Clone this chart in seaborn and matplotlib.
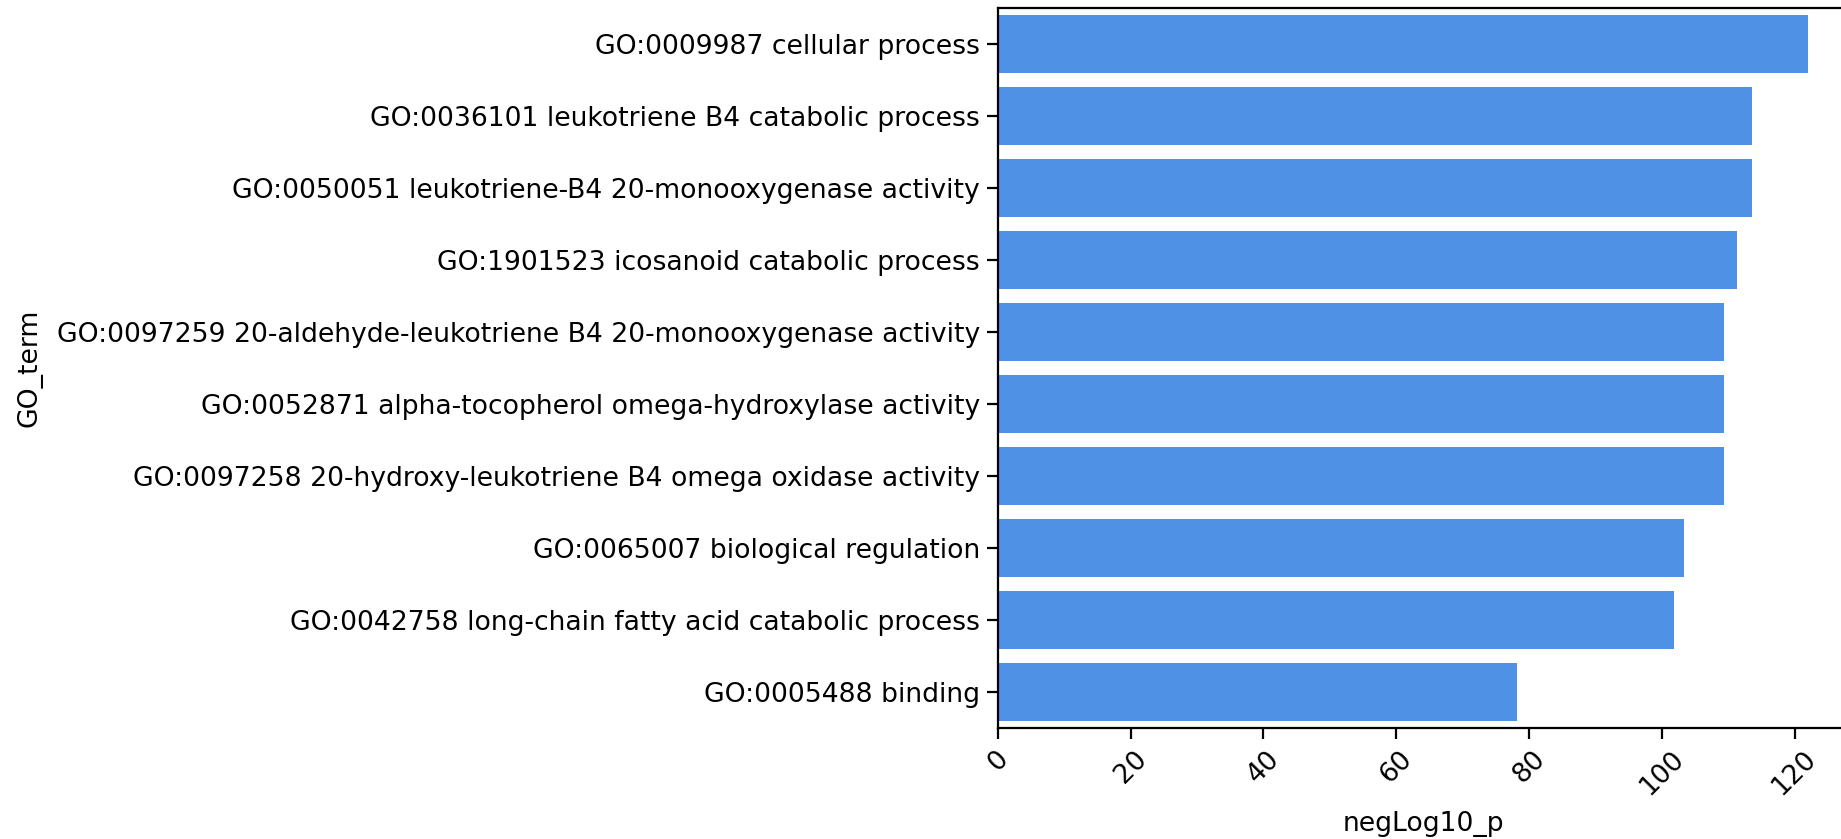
import pandas as pd
import matplotlib
matplotlib.use("Agg")
import matplotlib.pyplot as plt
import seaborn as sns

# GO enrichment, top terms
go_terms = [
    "GO:0009987 cellular process",
    "GO:0036101 leukotriene B4 catabolic process",
    "GO:0050051 leukotriene-B4 20-monooxygenase activity",
    "GO:1901523 icosanoid catabolic process",
    "GO:0097259 20-aldehyde-leukotriene B4 20-monooxygenase activity",
    "GO:0052871 alpha-tocopherol omega-hydroxylase activity",
    "GO:0097258 20-hydroxy-leukotriene B4 omega oxidase activity",
    "GO:0065007 biological regulation",
    "GO:0042758 long-chain fatty acid catabolic process",
    "GO:0005488 binding",
]
neg_log10_p = [122.0, 113.6, 113.6, 111.4, 109.4, 109.4, 109.4, 103.4, 101.9, 78.2]

df = pd.DataFrame({"GO_term": go_terms, "negLog10_p": neg_log10_p})

plt.rcParams["font.family"] = ["DejaVu Sans"]
plt.rcParams["axes.linewidth"] = 1.6
plt.rcParams["xtick.major.width"] = 1.6
plt.rcParams["ytick.major.width"] = 1.6
plt.rcParams["xtick.major.size"] = 8
plt.rcParams["ytick.major.size"] = 8

fig = plt.figure(figsize=(18.41, 8.39), dpi=100)
ax = fig.add_axes([0.542, 0.1323, 0.462, 0.8582])

sns.barplot(data=df, x="negLog10_p", y="GO_term", color="#4f91e5",
            saturation=1, ax=ax)

ax.tick_params(axis="both", labelsize=19.2, pad=5, colors="black")
plt.setp(ax.get_xticklabels(), rotation=45)
ax.set_xlabel("negLog10_p", fontsize=19.2, labelpad=8)
ax.set_ylabel("GO_term", fontsize=19.2, labelpad=10)

fig.savefig("out.png", dpi=100)
